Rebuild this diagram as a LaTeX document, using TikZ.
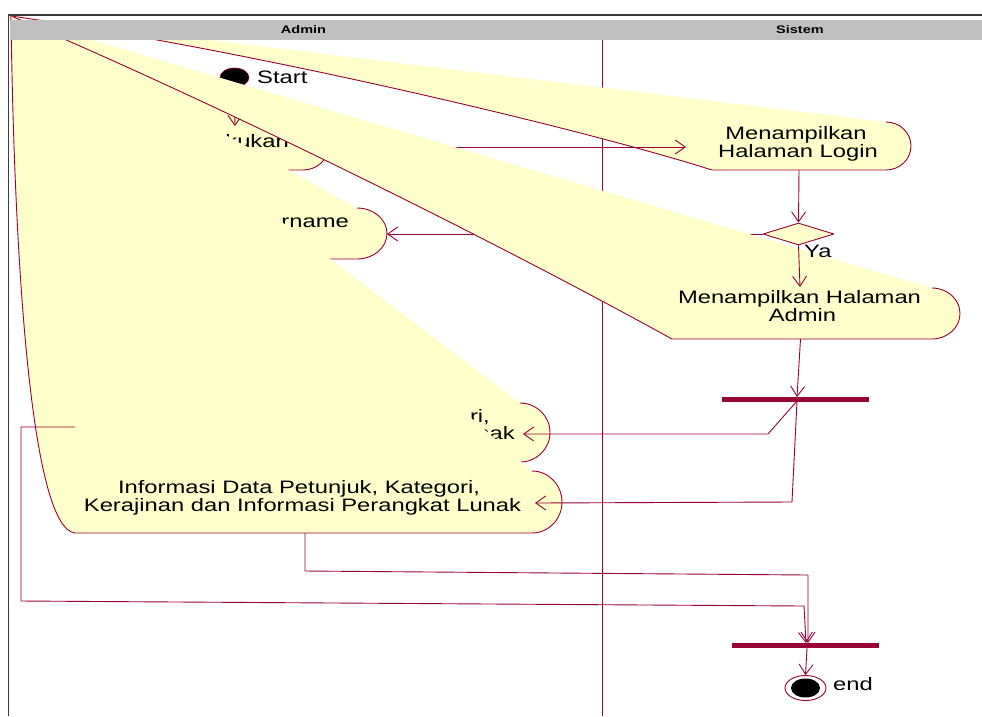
\documentclass[tikz,border=0pt]{standalone}
\usepackage{fontspec}
\setmainfont[FakeStretch=1.32]{Liberation Sans}
\usetikzlibrary{arrows.meta,shapes.geometric}
\definecolor{rr}{HTML}{990033}
\definecolor{yel}{HTML}{FFFFCC}
\definecolor{bandgray}{HTML}{C0C0C0}
\definecolor{framegray}{HTML}{3C3C3C}
% capsule-like activity whose left end is pulled to the corner (11,16)
% #1 x of arc start, #2 top y, #3 bottom y, #4 arc x radius, #5 bottom-left x, #6/#7 controls
\newcommand\actcapsule[7]{%
  \fill[yel] (11,16) -- (#1,#2)
    .. controls ({#1+0.5523*#4},#2) and ({#1+#4},{(#2+#3)/2-0.5523*(#3-#2)/2}) .. ({#1+#4},{(#2+#3)/2})
    .. controls ({#1+#4},{(#2+#3)/2+0.5523*(#3-#2)/2}) and ({#1+0.5523*#4},#3) .. (#1,#3)
    -- (#5,#3) .. controls #6 and #7 .. (11,16) -- cycle;
  \draw[edge] (#1,#2)
    .. controls ({#1+0.5523*#4},#2) and ({#1+#4},{(#2+#3)/2-0.5523*(#3-#2)/2}) .. ({#1+#4},{(#2+#3)/2})
    .. controls ({#1+#4},{(#2+#3)/2+0.5523*(#3-#2)/2}) and ({#1+0.5523*#4},#3) .. (#1,#3)
    -- (#5,#3) .. controls #6 and #7 .. (11,16);}
\begin{document}
\begin{tikzpicture}[x=1pt,y=-1pt,line join=round,
  edge/.style={draw=rr,line width=0.9pt},
  flow/.style={draw=rr,line width=0.9pt,-{Straight Barb[length=10pt,width=14pt]}},
  txt/.style={inner sep=0pt,font=\fontsize{18}{20}\selectfont},
  hdr/.style={inner sep=0pt,anchor=base,font=\fontsize{11}{11}\selectfont\bfseries},
  bar/.style={fill=rr,inner sep=0pt,minimum height=5pt}]
\useasboundingbox (0,0) rectangle (982,716);
% lane divider
\coordinate (laneTop) at (602,40);
\coordinate (laneBot) at (602,716);
\draw[edge] (laneTop) -- (laneBot);
% start
\node[draw=rr,fill=black,ellipse,minimum width=29pt,minimum height=19pt,inner sep=0pt,line width=0.6pt] (start) at (234.5,77.5) {};
\node[txt,anchor=base west] (startlbl) at (257,83) {Start};
% login page (Sistem)
\actcapsule{886}{122}{170}{25}{712}{(580,128)}{(250,50)}
\node[txt,anchor=base] (login1) at (796,139) {Menampilkan};
\node[txt,anchor=base] (login2) at (798,157) {Halaman Login};
\coordinate (loginL) at (686,147);
\coordinate (loginB) at (799,170);
% first activity (Admin)
\actcapsule{303}{125}{170}{25}{180}{(120,140)}{(60,60)}
\node[txt,anchor=base east] (a1txt) at (289,147) {kukan};
\coordinate (a1top) at (235,126);
\coordinate (a1right) at (328,147);
\draw[flow] (start.south) -- (a1top);
\draw[flow] (a1right) -- (loginL);
% username activity
\actcapsule{357}{208}{259}{30}{200}{(140,180)}{(60,80)}
\node[txt,anchor=base east] (usertxt) at (349,227) {rname};
\coordinate (userR) at (387,234);
% decision
\node[draw=rr,fill=yel,diamond,minimum width=71pt,minimum height=22pt,inner sep=0pt,line width=0.9pt] (dec) at (798.5,234) {};
\draw[flow] (loginB) -- (dec.north);
\draw[flow] (dec.west) -- (userR);
% admin page
\actcapsule{932}{288}{339}{28}{672}{(520,255)}{(250,118)}
\node[txt,anchor=base] (adm1) at (799.5,303) {Menampilkan Halaman};
\node[txt,anchor=base] (adm2) at (802.5,321) {Admin};
\coordinate (admT) at (800,287);
\coordinate (admB) at (800.5,339);
\draw[flow] (dec.south) -- (admT);
\node[txt,anchor=base west] (ya) at (804,257) {Ya};
% fork
\node[bar,minimum width=147pt] (fork) at (795.5,399.2) {};
\coordinate (forkIn) at (797,397);
\coordinate (forkOut) at (797,401);
\draw[flow] (admB) -- (forkIn);
% info 1
\actcapsule{520}{403}{462}{30}{80}{(40,460)}{(22,250)}
\node[txt,anchor=base east] (i1a) at (490,422) {ri,};
\node[txt,anchor=base east] (i1b) at (515,439) {nak};
% info 2
\actcapsule{532}{471}{533}{30}{75}{(30,528)}{(14,250)}
\node[txt,anchor=base] (i2a) at (299,493) {Informasi Data Petunjuk, Kategori,};
\node[txt,anchor=base] (i2b) at (302.5,511) {Kerajinan dan Informasi Perangkat Lunak};
\coordinate (i1R) at (523,434);
\coordinate (i2R) at (535,503);
\draw[flow] (forkOut) -- (768,434) -- (i1R);
\draw[flow] (forkOut) -- (792,502) -- (i2R);
% join
\node[bar,minimum width=147pt] (join) at (805.5,645.5) {};
\coordinate (i1L) at (75,427);
\coordinate (i2B) at (305,533);
\coordinate (joinInA) at (806,643);
\coordinate (joinInB) at (808,643);
\coordinate (joinOut) at (807,648);
\draw[flow] (i1L) -- (21,427) -- (21,601) -- (804,606) -- (joinInA);
\draw[flow] (i2B) -- (305,571) -- (808,575) -- (joinInB);
% end
\node[draw=rr,fill=white,ellipse,minimum width=41pt,minimum height=25pt,inner sep=0pt,line width=0.9pt] (endo) at (805.5,688) {};
\node[fill=black,ellipse,minimum width=29pt,minimum height=19pt,inner sep=0pt] (endi) at (805.5,688) {};
\node[txt,anchor=base west] (endlbl) at (833,690) {end};
\draw[flow] (joinOut) -- (endo.north);
% header
\fill[bandgray] (9.5,20) rectangle (982,40);
\node[hdr] (hAdmin) at (303.5,33.5) {Admin};
\node[hdr] (hSistem) at (800,33.5) {Sistem};
\draw[framegray,line width=1.5pt] (982,15) -- (8.5,15) -- (8.5,716);
\end{tikzpicture}
\end{document}
